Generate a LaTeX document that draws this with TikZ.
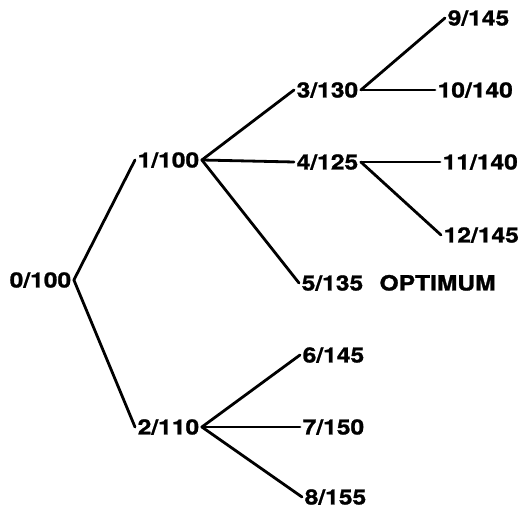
\documentclass[tikz,border=0pt]{standalone}
\usepackage{fontspec}
\setmainfont{TeX Gyre Heros}[FakeStretch=1.17, BoldFeatures={FakeBold=1.2}]
\usepackage{tikz}
\usetikzlibrary{positioning}

\begin{document}
\begin{tikzpicture}[
      x=1pt, y=-1pt,
      node distance=0.4cm and 12pt,
      lbl/.style={anchor=west, inner sep=2.5pt, text height=15pt, text depth=0pt,
                  font=\fontsize{21}{21}\selectfont\bfseries},
      br/.style={line width=2.8pt, line cap=round, line join=round},
    ]
      \useasboundingbox (0,0) rectangle (520,510);
      \node[lbl] (n0)  at (7,280)   {0/100};
      \node[lbl] (n1)  at (135,160) {1/100};
      \node[lbl] (n2)  at (135,427) {2/110};
      \node[lbl] (n3)  at (294,90)  {3/130};
      \node[lbl] (n4)  at (294,162) {4/125};
      \node[lbl] (n5)  at (299,283) {5/135};
      \node[lbl, right=11pt of n5.east, anchor=west] (opt) {OPTIMUM};
      \node[lbl] (n6)  at (300,355) {6/145};
      \node[lbl] (n7)  at (300,427) {7/150};
      \node[lbl] (n8)  at (302,497) {8/155};
      \node[lbl] (n9)  at (445,18)  {9/145};
      \node[lbl] (n10) at (435,90)  {10/140};
      \node[lbl] (n11) at (440,162) {11/140};
      \node[lbl] (n12) at (441,235) {12/145};
      \draw[br] (n0.east) -- (n1.west);
      \draw[br] (n0.east) -- (n2.west);
      \draw[br] (n1.east) -- (n3.west);
      \draw[br] (n1.east) -- (n4.west);
      \draw[br] (n1.east) -- (n5.west);
      \draw[br] (n2.east) -- (n6.west);
      \draw[br] (n2.east) -- (n7.west);
      \draw[br] (n2.east) -- (n8.west);
      \draw[br] (n3.east) -- (n9.west);
      \draw[br] (n3.east) -- (n10.west);
      \draw[br] (n4.east) -- (n11.west);
      \draw[br] (n4.east) -- (n12.west);
    \end{tikzpicture}
\end{document}
